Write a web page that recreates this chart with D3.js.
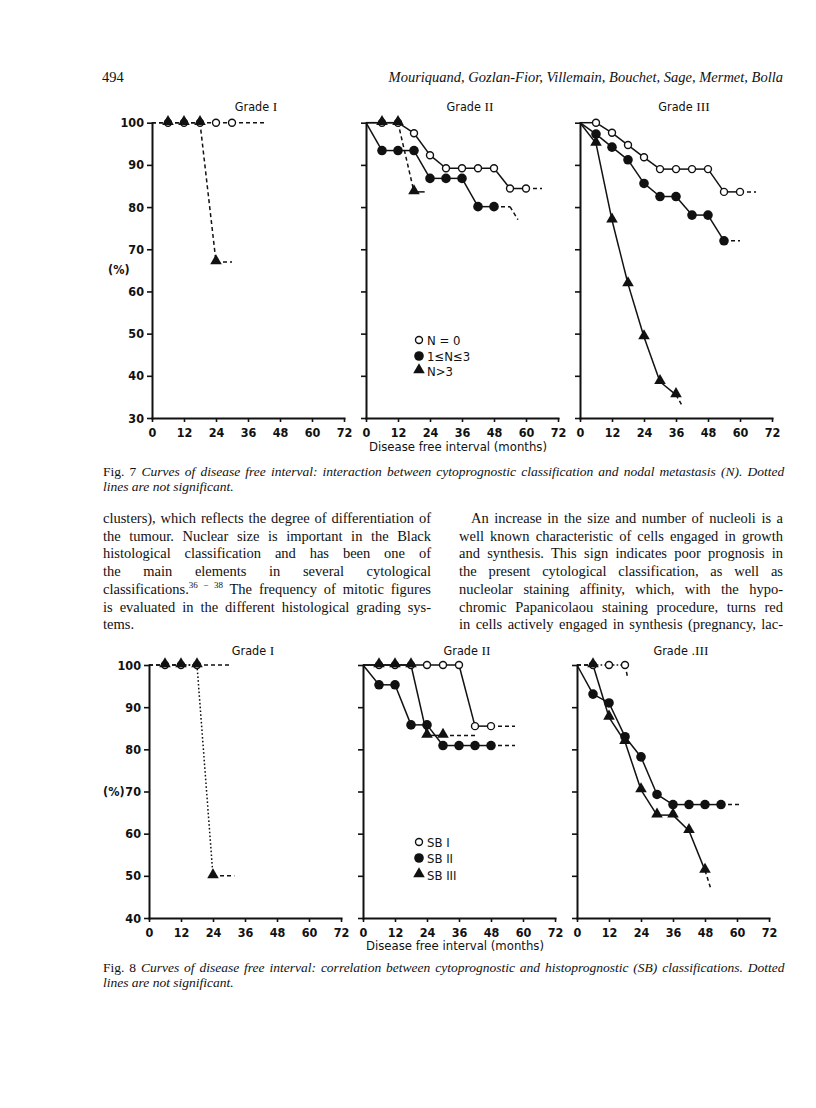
<!DOCTYPE html>
<html>
<head>
<meta charset="utf-8">
<script src="https://cdnjs.cloudflare.com/ajax/libs/d3/7.8.5/d3.min.js"></script>
<style>
  body { margin: 0; background: #fff; }
  svg { display: block; }
  .ax text, .lbl { font-family: "DejaVu Sans Condensed", "Liberation Sans Narrow", sans-serif; font-weight: bold; font-size: 12.5px; fill: #111; }
  .leg { font-family: "DejaVu Sans Condensed", sans-serif; font-size: 13px; fill: #111; }
  .ttl { font-family: "DejaVu Sans Condensed", sans-serif; font-size: 12.5px; fill: #111; }
  .ax path, .ax line { stroke: #111; }
  .ax path { stroke-width: 2; }
  .ax line { stroke-width: 1.6; }
  .body { font-family: "Liberation Serif", "Times New Roman", serif; font-size: 14.5px; fill: #111; }
  .cap { font-family: "Liberation Serif", "Times New Roman", serif; font-size: 13.5px; fill: #111; }
</style>
</head>
<body>
<script>

// ---- data: [month, % disease free] ----
var monthTicks = [0, 12, 24, 36, 48, 60, 72];

// Fig 7 (N = 0 / 1<=N<=3 / N>3)
var f7g1Open = [[0,100],[6,100],[12,100],[18,100],[24,100],[30,100]],
    f7g1OpenTail = [[42,100]],
    f7g1Tri = [[0,100],[6,100],[12,100],[18,100],[24,67]],
    f7g1TriTail = [[30,67]];

var f7g2Open = [[0,100],[6,100],[12,100],[18,97.5],[24,92.3],[30,89.2],[36,89.2],[42,89.2],[48,89.2],[54,84.4],[60,84.4]],
    f7g2OpenTail = [[66,84.4]],
    f7g2Fill = [[0,100],[6,93.4],[12,93.4],[18,93.4],[24,86.8],[30,86.8],[36,86.8],[42,80.1],[48,80.1]],
    f7g2FillTail = [[54,80.1],[57,77]],
    f7g2Tri = [[0,100],[6,100],[12,100],[18,83.6]],
    f7g2TriTail = [[22,83.6]];

var f7g3Open = [[0,100],[6,100],[12,97.6],[18,94.7],[24,91.8],[30,89],[36,89],[42,89],[48,89],[54,83.6],[60,83.6]],
    f7g3OpenTail = [[66,83.6]],
    f7g3Fill = [[0,100],[6,97.3],[12,94.2],[18,91.2],[24,85.6],[30,82.5],[36,82.5],[42,78.1],[48,78.1],[54,72]],
    f7g3FillTail = [[60,72]],
    f7g3Tri = [[0,100],[6,95.1],[12,76.9],[18,61.8],[24,49.2],[30,38.6],[36,35.5]],
    f7g3TriTail = [[38.5,32.7]];

// Fig 8 (SB I / SB II / SB III)
var f8g1Open = [[0,100],[6,100],[12,100],[18,100]],
    f8g1OpenTail = [[30,100]],
    f8g1Tri = [[0,100],[6,100],[12,100],[18,100],[24,50]],
    f8g1TriTail = [[32,50]];

var f8g2Open = [[0,100],[6,100],[12,100],[18,100],[24,100],[30,100],[36,100],[42,85.5],[48,85.5]],
    f8g2OpenTail = [[57,85.5]],
    f8g2Fill = [[0,100],[6,95.3],[12,95.3],[18,85.8],[24,85.8],[30,80.9],[36,80.9],[42,80.9],[48,80.9]],
    f8g2FillTail = [[57,80.9]],
    f8g2Tri = [[0,100],[6,100],[12,100],[18,100],[24,83.3],[30,83.3]],
    f8g2TriTail = [[42,83.3]];

var f8g3Open = [[0,100],[6,100],[12,100],[18,100]],
    f8g3OpenTail = [[19,97]],
    f8g3Fill = [[0,100],[6,93.1],[12,91],[18,83],[24,78.2],[30,69.3],[36,66.9],[42,66.9],[48,66.9],[54,66.9]],
    f8g3FillTail = [[61,66.9]],
    f8g3Tri = [[0,100],[6,100],[12,87.6],[18,81.8],[24,70.4],[30,64.4],[36,64.4],[42,60.7],[48,51.3]],
    f8g3TriTail = [[50,47.3]];

var legend7 = ["N = 0", "1\u2264N\u22643", "N>3"],
    legend8 = ["SB I", "SB II", "SB III"];

// ---- layout ----
var W = 816, H = 1108;
var svg = d3.select("body").append("svg").attr("width", W).attr("height", H);

// segment styles: s solid, d dashed, o dotted
var dash = {s: null, d: "4,3", o: "1.6,2.2"};

var figs = [
  {base: 418, yMin: 30, x0: [152, 366, 580], titleY: 111, xlabY: 451, pctY: 274, pctX: 108,
   titles: [["Grade ", "I"], ["Grade ", "II"], ["Grade ", "III"]],
   legend: legend7, legY: [340, 356, 371],
   panels: [
     [{pts: f7g1Open, tail: f7g1OpenTail, mark: "open", segs: "ddddd", ts: "d"},
      {pts: f7g1Tri, tail: f7g1TriTail, mark: "tri", segs: "dddd", ts: "d"}],
     [{pts: f7g2Open, tail: f7g2OpenTail, mark: "open", segs: "ssssssssss", ts: "d"},
      {pts: f7g2Fill, tail: f7g2FillTail, mark: "fill", segs: "ssssssss", ts: "d"},
      {pts: f7g2Tri, tail: f7g2TriTail, mark: "tri", segs: "ssd", ts: "s"}],
     [{pts: f7g3Open, tail: f7g3OpenTail, mark: "open", segs: "ssssssssss", ts: "d"},
      {pts: f7g3Fill, tail: f7g3FillTail, mark: "fill", segs: "sssssssss", ts: "d"},
      {pts: f7g3Tri, tail: f7g3TriTail, mark: "tri", segs: "ssssss", ts: "d"}]
   ]},
  {base: 918, yMin: 40, x0: [149, 363, 577], titleY: 655, xlabY: 950, pctY: 796, pctX: 103,
   titles: [["Grade ", "I"], ["Grade ", "II"], ["Grade .", "III"]],
   legend: legend8, legY: [842, 858, 875],
   panels: [
     [{pts: f8g1Open, tail: f8g1OpenTail, mark: "open", segs: "ddo", ts: "d"},
      {pts: f8g1Tri, tail: f8g1TriTail, mark: "tri", segs: "ddoo", ts: "d"}],
     [{pts: f8g2Open, tail: f8g2OpenTail, mark: "open", segs: "ssssssss", ts: "d"},
      {pts: f8g2Fill, tail: f8g2FillTail, mark: "fill", segs: "ssssssss", ts: "d"},
      {pts: f8g2Tri, tail: f8g2TriTail, mark: "tri", segs: "sssss", ts: "d"}],
     [{pts: f8g3Open, tail: f8g3OpenTail, mark: "open", segs: "doo", ts: "d"},
      {pts: f8g3Fill, tail: f8g3FillTail, mark: "fill", segs: "sssssssss", ts: "d"},
      {pts: f8g3Tri, tail: f8g3TriTail, mark: "tri", segs: "dsssssss", ts: "d"}]
   ]}
];

var PW = 192, Y100 = {418: 122.7, 918: 665};
var tri = d3.symbol().type(d3.symbolTriangle).size(58);

function marker(g, kind, cx, cy) {
  if (kind == "open")
    g.append("circle").attr("cx", cx).attr("cy", cy).attr("r", 3.5)
      .attr("fill", "#fff").attr("stroke", "#111").attr("stroke-width", 1.4);
  else if (kind == "fill")
    g.append("circle").attr("cx", cx).attr("cy", cy).attr("r", 4.8).attr("fill", "#111");
  else
    g.append("path").attr("d", tri).attr("transform", "translate(" + cx + "," + (cy - 1) + ")").attr("fill", "#111");
}

figs.forEach(function(f) {
  f.panels.forEach(function(series, pi) {
    var x = d3.scaleLinear().domain([0, 72]).range([f.x0[pi], f.x0[pi] + PW]);
    var y = d3.scaleLinear().domain([f.yMin, 100]).range([f.base, Y100[f.base]]);
    var g = svg.append("g");

    // axes
    g.append("g").attr("class", "ax")
      .attr("transform", "translate(0," + f.base + ")")
      .call(d3.axisBottom(x).tickValues(monthTicks).tickSize(4).tickSizeOuter(0).tickPadding(6));
    var yAxis = d3.axisLeft(y).tickValues(d3.range(f.yMin, 101, 10)).tickSize(5).tickSizeOuter(0).tickPadding(3);
    if (pi > 0) yAxis.tickFormat("");
    g.append("g").attr("class", "ax")
      .attr("transform", "translate(" + f.x0[pi] + ",0)")
      .call(yAxis);
    g.selectAll(".ax path").attr("stroke-linecap", "square");

    // title
    var t = g.append("text").attr("class", "ttl").attr("x", x(36) + 8).attr("y", f.titleY).attr("text-anchor", "middle");
    t.append("tspan").text(f.titles[pi][0]);
    t.append("tspan").style("font-family", "Liberation Serif, serif").style("font-size", "13.5px").text(f.titles[pi][1]);

    // curves: lines first, then markers on top
    series.forEach(function(s) {
      var all = s.pts.concat(s.tail);
      for (var i = 0; i < all.length - 1; i++) {
        var st = i < s.pts.length - 1 ? s.segs[i] : s.ts;
        g.append("line")
          .attr("x1", x(all[i][0])).attr("y1", y(all[i][1]))
          .attr("x2", x(all[i + 1][0])).attr("y2", y(all[i + 1][1]))
          .attr("stroke", "#111").attr("stroke-width", 1.5)
          .attr("stroke-dasharray", dash[st]);
      }
    });
    ["open", "fill", "tri"].forEach(function(kind) {
      series.filter(function(s) { return s.mark == kind; }).forEach(function(s) {
        s.pts.slice(1).forEach(function(p) { marker(g, kind, x(p[0]), y(p[1])); });
      });
    });

    if (pi == 0)
      g.append("text").attr("class", "lbl").attr("x", f.pctX).attr("y", f.pctY).text("(%)");

    if (pi == 1) {
      g.append("text").attr("class", "ttl").style("font-size", "13px").attr("x", x(36) - 4).attr("y", f.xlabY)
        .attr("text-anchor", "middle").text("Disease free interval (months)");
      ["open", "fill", "tri"].forEach(function(kind, li) {
        marker(g, kind, 419, f.legY[li]);
        g.append("text").attr("class", "leg")
          .attr("x", 427).attr("y", f.legY[li] + 5).text(f.legend[li]);
      });
    }
  });
});

// ---- page text ----
svg.append("text").attr("class", "body").attr("x", 102).attr("y", 82).text("494");
svg.append("text").attr("class", "body").attr("x", 783).attr("y", 82).attr("text-anchor", "end")
  .attr("font-style", "italic").text("Mouriquand, Gozlan-Fior, Villemain, Bouchet, Sage, Mermet, Bolla");

function justify(sel, width) {
  sel.each(function() {
    var n = this.getComputedTextLength();
    var sp = (d3.select(this).text().match(/ /g) || []).length;
    if (sp) d3.select(this).style("word-spacing", ((width - n) / sp) + "px");
  });
}

function caption(lab, l1, l2, y0) {
  var t1 = svg.append("text").attr("class", "cap").attr("x", 103).attr("y", y0);
  t1.append("tspan").text(lab + " ");
  t1.append("tspan").attr("font-style", "italic").text(l1);
  justify(t1, 683);
  svg.append("text").attr("class", "cap").attr("x", 103).attr("y", y0 + 15)
    .attr("font-style", "italic").text(l2);
}
caption("Fig. 7 ", "Curves of disease free interval: interaction between cytoprognostic classification and nodal metastasis (N). Dotted",
  "lines are not significant.", 476);
caption("Fig. 8 ", "Curves of disease free interval: correlation between cytoprognostic and histoprognostic (SB) classifications. Dotted",
  "lines are not significant.", 972);

var leftCol = [
  "clusters), which reflects the degree of differentiation of",
  "the tumour. Nuclear size is important in the Black",
  "histological classification and has been one of",
  "the main elements in several cytological",
  "classifications.|36 \u2212 38| The frequency of mitotic figures",
  "is evaluated in the different histological grading sys-",
  "tems."
];
var rightCol = [
  "An increase in the size and number of nucleoli is a",
  "well known characteristic of cells engaged in growth",
  "and synthesis. This sign indicates poor prognosis in",
  "the present cytological classification, as well as",
  "nucleolar staining affinity, which, with the hypo-",
  "chromic Papanicolaou staining procedure, turns red",
  "in cells actively engaged in synthesis (pregnancy, lac-"
];

function column(lines, x0, w, first, lastJust) {
  lines.forEach(function(l, i) {
    var xs = x0 + (i == 0 ? first : 0);
    var t = svg.append("text").attr("class", "body").attr("x", xs).attr("y", 523 + i * 17.7);
    var parts = l.split("|");
    parts.forEach(function(p, k) {
      var ts = t.append("tspan").text(p);
      if (k == 1) ts.attr("font-size", 9).attr("dy", -6);
      if (k == 2) ts.attr("dy", 6);
    });
    if (i < lines.length - 1 || lastJust) justify(t, w - (xs - x0));
  });
}
column(leftCol, 103, 328, 0, false);
column(rightCol, 459, 324, 12, true);

</script>
</body>
</html>
